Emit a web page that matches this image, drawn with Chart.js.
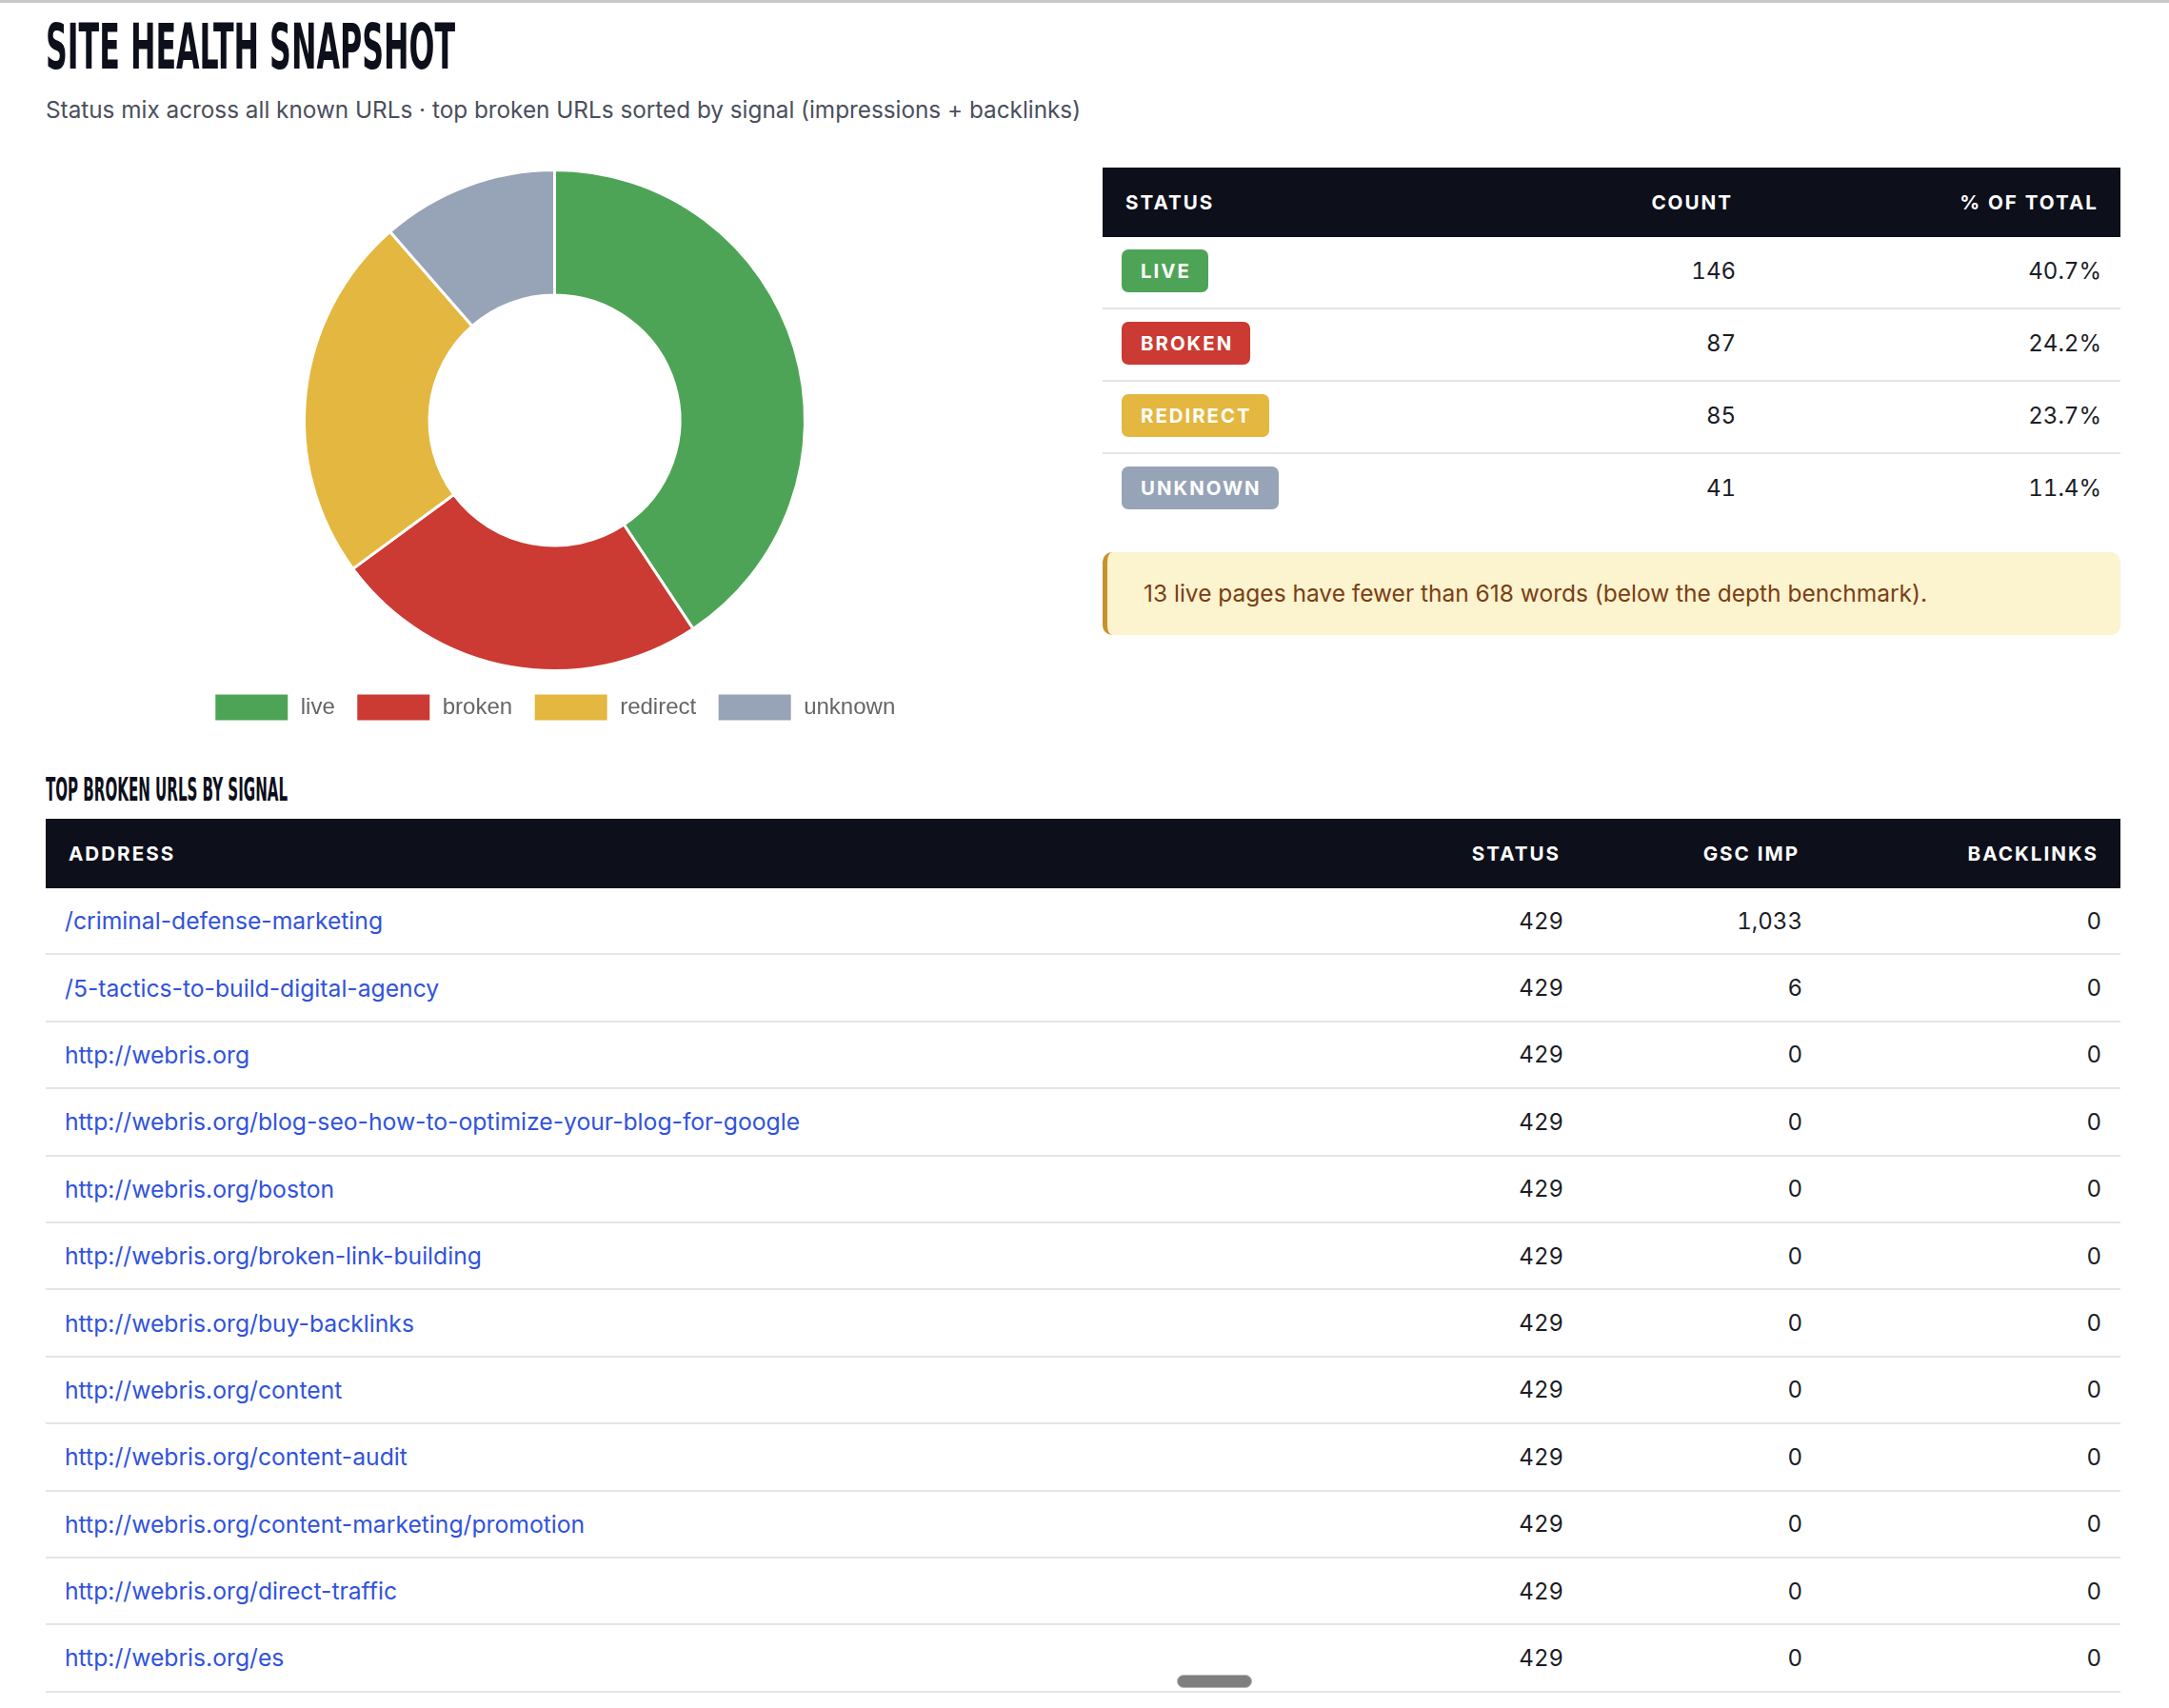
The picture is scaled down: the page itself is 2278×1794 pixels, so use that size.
<!DOCTYPE html>
<html>
<head>
<meta charset="utf-8">
<title>Site health snapshot</title>
<script src="https://cdn.jsdelivr.net/npm/chart.js@4.4.1/dist/chart.umd.min.js"></script>
<style>
  html, body { margin: 0; padding: 0; background: #fff; }
  body {
    width: 2278px; height: 1794px; overflow: hidden; position: relative;
    font-family: Inter, "Noto Sans", sans-serif; color: #1b1d26;
    border-top: 3px solid #c8c8c8; box-sizing: border-box;
  }
  .squeeze {
    position: absolute; left: 48px; margin: 0; white-space: nowrap;
    font-family: "DejaVu Sans Condensed", "DejaVu Sans", sans-serif;
    font-weight: bold; color: #0d0f1b; line-height: 1;
    transform-origin: 0 0;
  }
  .page-title { top: 14px; font-size: 66px; }
  .section-title { top: 810px; font-size: 33px; }
  .subtitle {
    position: absolute; left: 48px; top: 96px; margin: 0;
    font-size: 24.3px; line-height: 32px; color: #4a4f5c; white-space: nowrap;
  }
  .chart-box { position: absolute; left: 48px; top: 174px; width: 1069px; height: 591px; }

  table { border-collapse: collapse; table-layout: fixed; position: absolute; }
  th {
    background: #0d0f1b; color: #fff; font-weight: 700; font-size: 20.6px;
    letter-spacing: 2px; height: 73px; padding: 0 23px 0 24px; text-transform: uppercase;
  }
  td { font-size: 24px; padding: 0 20px; color: #1b1d26; }
  td.num { font-variant-numeric: tabular-nums; }
  tr.body-row td { border-bottom: 2px solid #e4e4e9; }
  .l { text-align: left; }
  .r { text-align: right; }

  #statusTable { left: 1158px; top: 173px; width: 1069px; }
  #statusTable td { height: 71px; padding-bottom: 3px; }
  #statusTable tr.body-row:last-child td { border-bottom: none; }
  .badge {
    display: inline-block; color: #fff; font-weight: 700; font-size: 20.4px;
    letter-spacing: 2px; line-height: 45px; height: 45px; padding: 0 18px 0 20px;
    border-radius: 7px; text-transform: uppercase;
  }

  .notice {
    position: absolute; left: 1158px; top: 577px; width: 1069px; height: 87px;
    box-sizing: border-box; background: #fcf3cf; border-left: 5px solid #c8912b;
    border-radius: 10px; padding-left: 38px; font-size: 24.5px; line-height: 87px;
    color: #7a3f14; white-space: nowrap;
  }

  #brokenTable { left: 48px; top: 857px; width: 2179px; }
  #brokenTable td { height: 68.4px; }
  #brokenTable a { color: #3153dc; text-decoration: none; font-size: 24.7px; }

  .scroll-pill {
    position: absolute; left: 1236px; top: 1756px; width: 79px; height: 14px;
    border-radius: 8px; background: #7f7f7f; border: 1px solid #b5b5b5; box-sizing: border-box;
  }
</style>
</head>
<body>

<h1 class="squeeze page-title" id="pageTitle">SITE HEALTH SNAPSHOT</h1>
<p class="subtitle">Status mix across all known URLs · top broken URLs sorted by signal (impressions + backlinks)</p>

<div class="chart-box"><canvas id="statusChart"></canvas></div>

<table id="statusTable">
  <colgroup><col style="width:385px"><col style="width:300px"><col style="width:384px"></colgroup>
  <thead><tr><th class="l">Status</th><th class="r">Count</th><th class="r">% of total</th></tr></thead>
  <tbody></tbody>
</table>

<div class="notice">13 live pages have fewer than 618 words (below the depth benchmark).</div>

<h2 class="squeeze section-title" id="sectionTitle">TOP BROKEN URLS BY SIGNAL</h2>

<table id="brokenTable">
  <colgroup><col style="width:1364px"><col style="width:250px"><col style="width:251px"><col style="width:314px"></colgroup>
  <thead><tr><th class="l">Address</th><th class="r">Status</th><th class="r">GSC Imp</th><th class="r">Backlinks</th></tr></thead>
  <tbody></tbody>
</table>

<div class="scroll-pill"></div>

<script>
// status mix
const statusLabels = ["live", "broken", "redirect", "unknown"];
const statusCounts = [146, 87, 85, 41];
const statusShares = ["40.7%", "24.2%", "23.7%", "11.4%"];

// top broken urls
const brokenUrls = [
    "/criminal-defense-marketing",
    "/5-tactics-to-build-digital-agency",
    "http://webris.org",
    "http://webris.org/blog-seo-how-to-optimize-your-blog-for-google",
    "http://webris.org/boston",
    "http://webris.org/broken-link-building",
    "http://webris.org/buy-backlinks",
    "http://webris.org/content",
    "http://webris.org/content-audit",
    "http://webris.org/content-marketing/promotion",
    "http://webris.org/direct-traffic",
    "http://webris.org/es"
];
const brokenStatus = [429, 429, 429, 429, 429, 429, 429, 429, 429, 429, 429, 429];
const gscImpressions = [1033, 6, 0, 0, 0, 0, 0, 0, 0, 0, 0, 0];
const backlinkCounts = [0, 0, 0, 0, 0, 0, 0, 0, 0, 0, 0, 0];

//set colors
const statusColors = ["#4ea456", "#cb3a33", "#e3b740", "#97a3b7"];

// squeeze the condensed headings to the width they have in the design
function squeeze(id, targetWidth) {
    const el = document.getElementById(id);
    const w = el.getBoundingClientRect().width;
    el.style.transform = "scaleX(" + (targetWidth / w) + ")";
}
squeeze("pageTitle", 430);
squeeze("sectionTitle", 254);

// status table
const statusBody = document.querySelector("#statusTable tbody");
statusLabels.forEach(function (label, i) {
    const tr = document.createElement("tr");
    tr.className = "body-row";
    tr.innerHTML =
        '<td class="l"><span class="badge" style="background:' + statusColors[i] + '">' + label + '</span></td>' +
        '<td class="r num">' + statusCounts[i] + '</td>' +
        '<td class="r num">' + statusShares[i] + '</td>';
    statusBody.appendChild(tr);
});

// broken urls table
const brokenBody = document.querySelector("#brokenTable tbody");
brokenUrls.forEach(function (url, i) {
    const tr = document.createElement("tr");
    tr.className = "body-row";
    tr.innerHTML =
        '<td class="l"><a href="#">' + url + '</a></td>' +
        '<td class="r num">' + brokenStatus[i] + '</td>' +
        '<td class="r num">' + gscImpressions[i].toLocaleString("en-US") + '</td>' +
        '<td class="r num">' + backlinkCounts[i] + '</td>';
    brokenBody.appendChild(tr);
});

// doughnut
const ctx = document.getElementById("statusChart");

new Chart(ctx, {
    type: "doughnut",
    data: {
        labels: statusLabels,
        datasets: [
            {
                data: statusCounts,
                backgroundColor: statusColors,
                borderColor: "#fff",
                borderWidth: 3,
                hoverOffset: 0
            }
        ]
    },
    options: {
        responsive: true,
        maintainAspectRatio: false,
        animation: false,
        cutout: "50%",
        plugins: {
            legend: {
                position: "bottom",
                labels: {
                    boxWidth: 79,
                    boxHeight: 30,
                    padding: 22,
                    color: "#666",
                    font: { size: 24 }
                }
            },
            tooltip: { enabled: false }
        }
    }
});
</script>
</body>
</html>
